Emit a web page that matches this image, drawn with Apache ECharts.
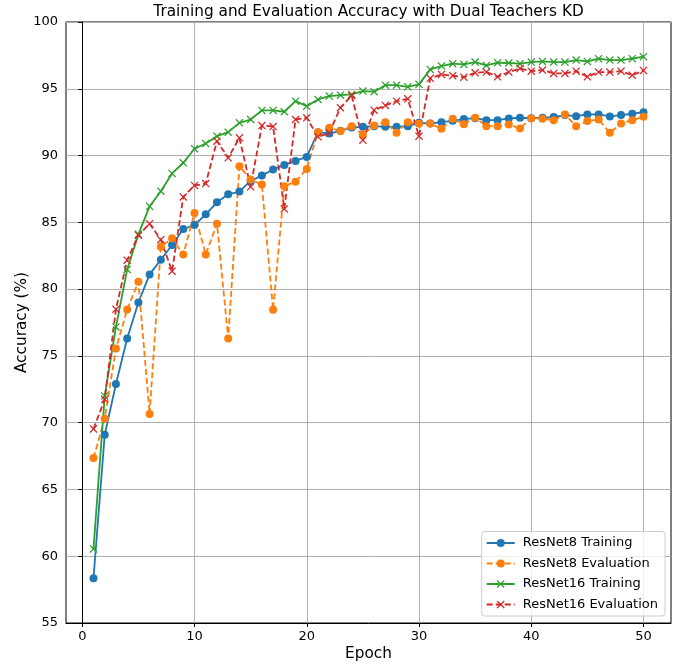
<!DOCTYPE html>
<html>
<head>
<meta charset="utf-8">
<script src="https://cdn.jsdelivr.net/npm/echarts@6/dist/echarts.min.js"></script>
<style>
html,body{margin:0;padding:0;background:#fff;}
#chart{width:681px;height:669px;}
</style>
</head>
<body>
<div id="chart"></div>
<script>
const epochs = Array.from({length: 50}, (_, i) => i + 1);
const xTicks = [0, 10, 20, 30, 40, 50];
const seriesNames = ['ResNet8 Training', 'ResNet8 Evaluation', 'ResNet16 Training', 'ResNet16 Evaluation'];

const resnet8Train = [58.35, 69.1, 72.9, 76.3, 79.0, 81.1, 82.2, 83.3, 84.5, 84.8,
  85.6, 86.5, 87.1, 87.3, 88.1, 88.5, 88.95, 89.3, 89.6, 89.9,
  91.75, 91.65, 91.85, 92.1, 92.15, 92.2, 92.15, 92.15, 92.2, 92.45,
  92.4, 92.5, 92.6, 92.73, 92.8, 92.65, 92.65, 92.78, 92.83, 92.8,
  92.83, 92.88, 93.03, 92.95, 93.08, 93.08, 92.93, 93.03, 93.13, 93.25];

const resnet8Eval = [67.35, 70.3, 75.55, 78.47, 80.55, 70.65, 83.17, 83.8, 82.6, 85.7,
  82.6, 84.9, 76.3, 89.2, 88.2, 87.83, 78.45, 87.7, 88.04, 89.0,
  91.75, 92.08, 91.83, 92.2, 91.58, 92.25, 92.5, 91.7, 92.5, 92.38,
  92.4, 92.0, 92.76, 92.35, 92.83, 92.2, 92.2, 92.33, 92.03, 92.8,
  92.76, 92.65, 93.08, 92.2, 92.58, 92.7, 91.7, 92.4, 92.65, 92.9];

const resnet16Train = [60.55, 72.0, 77.17, 81.47, 84.1, 86.2, 87.33, 88.66, 89.46, 90.51,
  90.9, 91.45, 91.75, 92.45, 92.7, 93.38, 93.38, 93.28, 94.07, 93.7,
  94.2, 94.45, 94.52, 94.58, 94.83, 94.78, 95.27, 95.27, 95.15, 95.33,
  96.45, 96.7, 96.88, 96.82, 97.0, 96.75, 96.95, 96.93, 96.88, 97.0,
  97.05, 97.0, 97.0, 97.15, 97.05, 97.25, 97.15, 97.15, 97.25, 97.4];

const resnet16Eval = [69.53, 71.75, 78.5, 82.17, 84.04, 84.9, 83.7, 81.34, 86.9, 87.76,
  87.9, 91.08, 89.83, 91.33, 87.66, 92.25, 92.17, 86.0, 92.7, 92.83,
  91.4, 91.7, 93.58, 94.5, 91.15, 93.4, 93.75, 94.07, 94.25, 91.45,
  95.78, 96.07, 95.98, 95.87, 96.2, 96.25, 95.9, 96.25, 96.52, 96.32,
  96.4, 96.15, 96.15, 96.32, 95.9, 96.25, 96.25, 96.32, 96.02, 96.37];

const colors = ['#1f77b4', '#ff7f0e', '#2ca02c', '#d62728'];
const xSymbol = 'path://M0,1.1L1.1,0L10,8.9L8.9,10Z M8.9,0L10,1.1L1.1,10L0,8.9Z';
const FONT = 'DejaVu Sans';

function pairs(vals) { return epochs.map((e, i) => [e, vals[i]]); }

function mkSeries(idx, vals, symbol, dashed) {
  return {
    name: seriesNames[idx],
    type: 'line',
    data: pairs(vals),
    symbol: symbol,
    symbolSize: 8,
    showSymbol: true,
    animation: false,
    color: colors[idx],
    itemStyle: { color: colors[idx], borderWidth: 0 },
    lineStyle: { color: colors[idx], width: 1.8, type: dashed ? [6, 3] : 'solid' },
    emphasis: { disabled: true }
  };
}

const chart = echarts.init(document.getElementById('chart'), null, { renderer: 'canvas' });
chart.setOption({
  animation: false,
  backgroundColor: '#ffffff',
  title: {
    text: 'Training and Evaluation Accuracy with Dual Teachers KD',
    left: 368.5,
    top: 5,
    padding: 0,
    textAlign: 'center',
    textStyle: { fontFamily: FONT, fontSize: 15.3, fontWeight: 'normal', color: '#000' }
  },
  grid: {
    left: 66, right: 10, top: 22, bottom: 46,
    show: true, borderColor: '#000', borderWidth: 1, backgroundColor: 'transparent'
  },
  legend: {
    orient: 'vertical',
    right: 16, bottom: 53,
    padding: [5, 7, 5, 4],
    itemWidth: 28, itemHeight: 10, itemGap: 7.5,
    backgroundColor: 'rgba(255,255,255,0.8)',
    borderColor: '#cccccc', borderWidth: 1, borderRadius: 3,
    textStyle: { fontFamily: FONT, fontSize: 13, color: '#000', padding: [0, 0, 0, 3] },
    data: seriesNames
  },
  xAxis: {
    type: 'value',
    min: -1.45, max: 52.45,
    splitNumber: 5,
    name: 'Epoch', nameLocation: 'middle', nameGap: 24,
    nameMoveOverlap: false,
    nameTextStyle: { fontFamily: FONT, fontSize: 15.3, color: '#000' },
    axisLine: { show: true, lineStyle: { color: '#000', width: 1 } },
    axisTick: { show: true, inside: false, length: 4, customValues: xTicks, lineStyle: { color: '#000' } },
    axisLabel: { customValues: xTicks, fontFamily: FONT, fontSize: 13, color: '#000', margin: 7 },
    splitLine: { show: true, lineStyle: { color: '#b0b0b0', width: 1 } }
  },
  yAxis: {
    type: 'value',
    min: 55, max: 100, interval: 5,
    name: 'Accuracy (%)', nameLocation: 'middle', nameGap: 36, nameRotate: 90,
    nameMoveOverlap: false,
    nameTextStyle: { fontFamily: FONT, fontSize: 15.3, color: '#000' },
    axisLine: { show: true, lineStyle: { color: '#000', width: 1 } },
    axisTick: { show: true, inside: false, length: 4, lineStyle: { color: '#000' } },
    axisLabel: { fontFamily: FONT, fontSize: 13, color: '#000', margin: 8 },
    splitLine: { show: true, lineStyle: { color: '#b0b0b0', width: 1 } }
  },
  series: [
    mkSeries(0, resnet8Train, 'circle', false),
    mkSeries(1, resnet8Eval, 'circle', true),
    mkSeries(2, resnet16Train, xSymbol, false),
    mkSeries(3, resnet16Eval, xSymbol, true)
  ]
});
</script>
</body>
</html>
